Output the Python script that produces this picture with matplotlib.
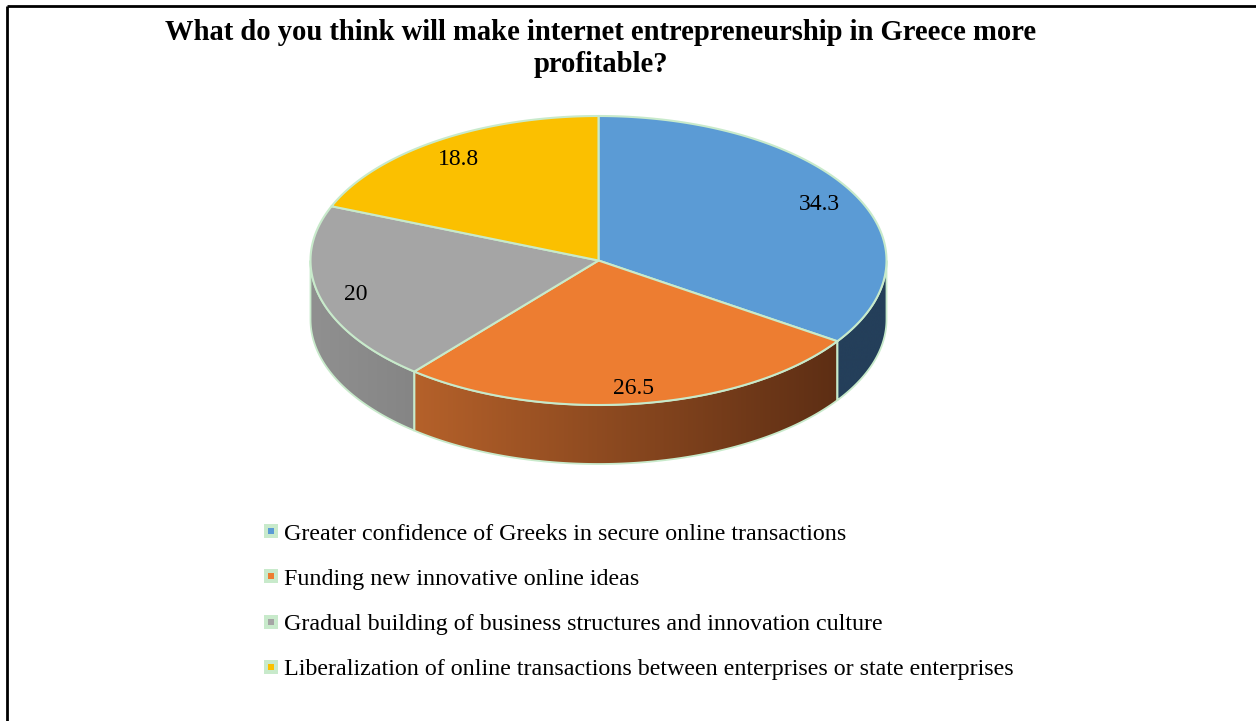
import numpy as np
import matplotlib
matplotlib.use("Agg")
import matplotlib.pyplot as plt
from matplotlib.patches import Polygon, Rectangle
from matplotlib.colors import LinearSegmentedColormap

plt.rcParams["font.family"] = ["Liberation Serif", "DejaVu Serif"]

title_lines = ["What do you think will make internet entrepreneurship in Greece more",
               "profitable?"]
categories = [
    "Greater confidence of Greeks in secure online transactions",
    "Funding new innovative online ideas",
    "Gradual building of business structures and innovation culture",
    "Liberalization of online transactions between enterprises or state enterprises",
]
values = [34.3, 26.5, 20, 18.8]
labels = ["34.3", "26.5", "20", "18.8"]

top_colors = ["#5B9BD5", "#ED7D31", "#A5A5A5", "#FBC000"]
# side wall gradient (left colour, right colour) for each slice
side_colors = [("#243F5A", "#243F5A"), ("#B5612A", "#5D2E14"),
               ("#909090", "#858585"), ("#B58A00", "#7A5D00")]
edge = "#C8EACB"

W, H = 1256, 721
fig = plt.figure(figsize=(W / 100, H / 100), dpi=100)
ax = fig.add_axes([0, 0, 1, 1])
ax.set_xlim(0, W)
ax.set_ylim(H, 0)
ax.axis("off")

# frame lines on top and left
ax.plot([7, W], [6, 6], color="black", lw=2, solid_capstyle="butt")
ax.plot([7, 7], [6, H], color="black", lw=2, solid_capstyle="butt")

cx, cy = 598.5, 260.5
rx, ry = 288, 144.5
depth = 59


def pt(t, dy=0.0):
    r = np.radians(t)
    return cx + rx * np.cos(r), cy - ry * np.sin(r) + dy


fracs = np.array(values) / sum(values)
starts = 90 - 360 * np.concatenate([[0], np.cumsum(fracs)[:-1]])
ends = starts - 360 * fracs

# side walls (only the front half, angles between -180 and 0)
for i in range(len(values)):
    a0, a1 = min(starts[i], 0), max(ends[i], -180)
    if a0 <= a1:
        continue
    ts = np.linspace(a0, a1, 120)
    upper = [pt(t) for t in ts]
    lower = [pt(t, depth) for t in ts[::-1]]
    poly = Polygon(upper + lower, closed=True, facecolor="none",
                   edgecolor=edge, lw=1.3, zorder=2)
    ax.add_patch(poly)
    xs = [p[0] for p in upper]
    x_lo, x_hi = min(xs), max(xs)
    cmap = LinearSegmentedColormap.from_list("side%d" % i, side_colors[i])
    grad = np.linspace(0, 1, 256).reshape(1, -1)
    im = ax.imshow(grad, cmap=cmap, aspect="auto",
                   extent=(x_lo, x_hi, cy + ry + depth + 5, cy - ry - 5),
                   zorder=1, interpolation="bilinear")
    im.set_clip_path(poly)

# top faces
for i in range(len(values)):
    ts = np.linspace(starts[i], ends[i], 200)
    verts = [(cx, cy)] + [pt(t) for t in ts]
    ax.add_patch(Polygon(verts, closed=True, facecolor=top_colors[i],
                         edgecolor=edge, lw=1.5, joinstyle="round", zorder=3))

# value labels
for i, lab in enumerate(labels):
    mid = np.radians((starts[i] + ends[i]) / 2)
    lx = cx + 0.87 * rx * np.cos(mid)
    ly = cy - 0.87 * ry * np.sin(mid) + 1
    ax.text(lx, ly + 8, lab, fontsize=17, ha="center", va="baseline", zorder=4)

for k, line in enumerate(title_lines):
    ax.text(601, 40 + 32 * k, line, fontsize=20.6, fontweight="bold",
            ha="center", va="baseline")

# legend
for i, name in enumerate(categories):
    y = 531 + 45.3 * i
    ax.add_patch(Rectangle((263.5, y - 7), 14, 14, facecolor=edge,
                           edgecolor="none", zorder=3))
    ax.add_patch(Rectangle((267.5, y - 3), 6, 6, facecolor=top_colors[i],
                           edgecolor="none", zorder=4))
    ax.text(284, y + 8.5, name, fontsize=17.3, ha="left", va="baseline")

fig.savefig("out.png", dpi=100)
